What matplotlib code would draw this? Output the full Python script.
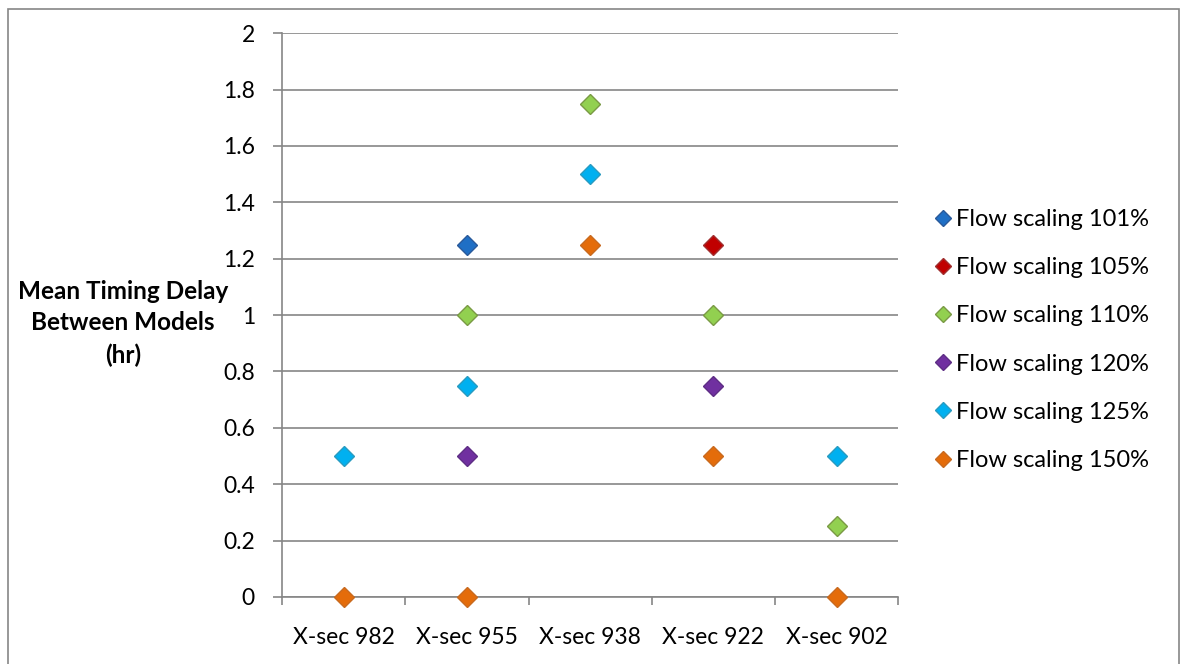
import numpy as np
import matplotlib
matplotlib.use("Agg")
import matplotlib.pyplot as plt
from matplotlib.patches import Rectangle

plt.rcParams['font.family'] = ['Lato', 'DejaVu Sans']

categories = ['X-sec 982', 'X-sec 955', 'X-sec 938', 'X-sec 922', 'X-sec 902']
nan = np.nan
s101 = [nan, 1.25, nan, nan, nan]
s105 = [nan, nan, nan, 1.25, nan]
s110 = [nan, 1.0, 1.75, 1.0, 0.25]
s120 = [nan, 0.5, nan, 0.75, nan]
s125 = [0.5, 0.75, 1.5, nan, 0.5]
s150 = [0.0, 0.0, 1.25, 0.5, 0.0]
series_labels = ['Flow scaling 101%', 'Flow scaling 105%', 'Flow scaling 110%',
                 'Flow scaling 120%', 'Flow scaling 125%', 'Flow scaling 150%']
y_ticks = [0, 0.2, 0.4, 0.6, 0.8, 1, 1.2, 1.4, 1.6, 1.8, 2]
y_tick_labels = ['0', '0.2', '0.4', '0.6', '0.8', '1', '1.2', '1.4', '1.6', '1.8', '2']

face_colors = ['#1F6FC5', '#C00000', '#92D050', '#7030A0', '#00B0F0', '#E46C0A']
edge_colors = ['#2A5A9A', '#A03030', '#7A9A45', '#5E2E85', '#2A9BC0', '#C86A20']

fig = plt.figure(figsize=(11.85, 6.64), dpi=100)
ax = fig.add_axes([0.238, 0.101, 0.520, 0.849])

x = np.arange(1, len(categories) + 1)
for vals, lab, fc, ec in zip([s101, s105, s110, s120, s125, s150], series_labels,
                             face_colors, edge_colors):
    ax.plot(x, vals, linestyle='none', marker='D', markersize=10,
            markerfacecolor=fc, markeredgecolor=ec, markeredgewidth=1,
            label=lab, clip_on=False, zorder=3)

ax.set_xlim(0.5, len(categories) + 0.5)
ax.set_ylim(0, 2)
ax.set_yticks(y_ticks)
ax.set_yticklabels(y_tick_labels, fontsize=16.5)
ax.set_xticks(x)
ax.set_xticklabels(categories, fontsize=16.5)
ax.set_xticks(np.arange(0.5, len(categories) + 1), minor=True)
ax.tick_params(axis='x', which='major', length=0, pad=22)
ax.tick_params(axis='x', which='minor', length=6, color='#868686', width=1.2)
ax.tick_params(axis='y', length=6.5, color='#868686', width=1.2, pad=13)
ax.yaxis.grid(True, color='#868686', linewidth=1.2)
ax.set_axisbelow(True)
for side in ['top', 'right']:
    ax.spines[side].set_visible(False)
for side in ['left', 'bottom']:
    ax.spines[side].set_color('#868686')
    ax.spines[side].set_linewidth(1.2)

fig.text(0.104, 0.513, 'Mean Timing Delay\nBetween Models\n(hr)', ha='center', va='center',
         fontsize=17.5, fontweight='bold', linespacing=1.45)

ax.legend(loc='center left', bbox_to_anchor=(0.78, 0.488), bbox_transform=fig.transFigure,
          frameon=False, fontsize=17, markerscale=0.85, handlelength=0.55,
          handletextpad=0.3, labelspacing=1.15, borderpad=0)

fig.add_artist(Rectangle((0.0068, -0.05), 0.9882, 1.0365, transform=fig.transFigure,
                         fill=False, edgecolor='#868686', linewidth=1.2))

fig.savefig('out.png', dpi=100)
